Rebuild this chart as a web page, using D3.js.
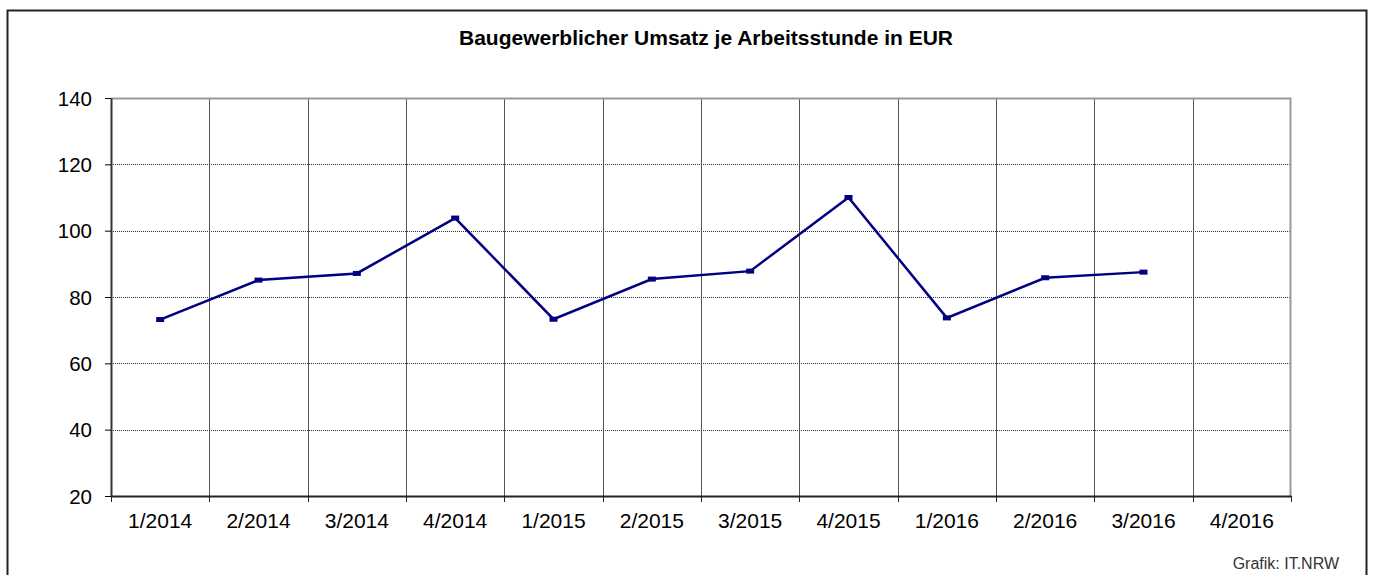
<!DOCTYPE html>
<html>
<head>
<meta charset="utf-8">
<script src="https://cdn.jsdelivr.net/npm/d3@7"></script>
<style>
  body { margin: 0; background: #fff; }
  text { font-family: "Liberation Sans", Arial, sans-serif; fill: #000; }
</style>
</head>
<body>
<svg id="chart" width="1373" height="575"></svg>
<script>
const quarters = ["1/2014", "2/2014", "3/2014", "4/2014", "1/2015", "2/2015",
    "3/2015", "4/2015", "1/2016", "2/2016", "3/2016", "4/2016"];
const umsatz = [73.2, 85.1, 87.1, 103.8, 73.3, 85.4, 87.8, 110.0, 73.7, 85.8, 87.5, null];
const yTicks = [20, 40, 60, 80, 100, 120, 140];

const width = 1373, height = 575;
const margin = {top: 98, right: 82, bottom: 79, left: 111};

const svg = d3.select("#chart");

// outer frame
svg.append("rect")
    .attr("x", 7.5).attr("y", 10.5)
    .attr("width", 1359).attr("height", 580)
    .attr("fill", "none")
    .attr("stroke", "#222")
    .attr("stroke-width", 2);

svg.append("text")
    .attr("x", 706).attr("y", 45)
    .attr("text-anchor", "middle")
    .style("font-size", "21px")
    .style("font-weight", "bold")
    .text("Baugewerblicher Umsatz je Arbeitsstunde in EUR");

const x = d3.scaleBand()
    .domain(quarters)
    .range([margin.left, width - margin.right]);

const y = d3.scaleLinear()
    .domain([20, 140])
    .range([height - margin.bottom, margin.top]);

// horizontal dotted gridlines
svg.append("g")
    .selectAll("line")
    .data(yTicks.slice(1, -1))
    .join("line")
    .attr("x1", margin.left).attr("x2", width - margin.right)
    .attr("y1", d => Math.round(y(d)) + 0.5).attr("y2", d => Math.round(y(d)) + 0.5)
    .attr("stroke", "#333")
    .attr("stroke-dasharray", "1,1");

// vertical gridlines at category boundaries
svg.append("g")
    .selectAll("line")
    .data(quarters.slice(1))
    .join("line")
    .attr("x1", d => Math.round(x(d)) + 0.5).attr("x2", d => Math.round(x(d)) + 0.5)
    .attr("y1", margin.top).attr("y2", height - margin.bottom)
    .attr("stroke", "#555")
    .attr("stroke-width", 1);

// plot frame top/right
svg.append("path")
    .attr("d", `M${margin.left},${margin.top + 0.5}H${width - margin.right - 0.5}V${height - margin.bottom}`)
    .attr("fill", "none")
    .attr("stroke", "#999")
    .attr("stroke-width", 2);

// y axis
const yAxis = svg.append("g")
    .attr("transform", `translate(${margin.left},0)`)
    .call(d3.axisLeft(y).tickValues(yTicks).tickSize(6).tickPadding(13).tickSizeOuter(0));
yAxis.select(".domain").attr("stroke", "#333").attr("stroke-width", 2);
yAxis.selectAll(".tick line").attr("stroke", "#000");
yAxis.selectAll("text").style("font-size", "20.5px").attr("dy", "0.35em");

// x axis: ticks at band boundaries
const xAxis = svg.append("g")
    .attr("transform", `translate(0,${height - margin.bottom})`)
    .call(d3.axisBottom(x).tickSize(0).tickPadding(17));
xAxis.select(".domain").attr("stroke", "#222").attr("stroke-width", 2);
xAxis.selectAll("text").style("font-size", "21px");
xAxis.selectAll(".bound")
    .data(quarters.concat(["end"]))
    .join("line")
    .attr("class", "bound")
    .attr("x1", (d, i) => Math.round(margin.left + i * x.bandwidth()) + 0.5)
    .attr("x2", (d, i) => Math.round(margin.left + i * x.bandwidth()) + 0.5)
    .attr("y1", 0).attr("y2", 6)
    .attr("stroke", "#222");

// series
const pts = quarters.map((q, i) => ({q: q, v: umsatz[i]})).filter(d => d.v != null);
const line = d3.line()
    .x(d => x(d.q) + x.bandwidth() / 2)
    .y(d => y(d.v));

svg.append("path")
    .datum(pts)
    .attr("d", line)
    .attr("fill", "none")
    .attr("stroke", "#000080")
    .attr("stroke-width", 2.5);

svg.append("g")
    .selectAll("rect")
    .data(pts)
    .join("rect")
    .attr("x", d => x(d.q) + x.bandwidth() / 2 - 4)
    .attr("y", d => y(d.v) - 2.5)
    .attr("width", 8).attr("height", 5)
    .attr("fill", "#000080");

svg.append("text")
    .attr("x", 1339).attr("y", 569)
    .attr("text-anchor", "end")
    .style("font-size", "16px")
    .style("fill", "#333")
    .text("Grafik: IT.NRW");
</script>
</body>
</html>
